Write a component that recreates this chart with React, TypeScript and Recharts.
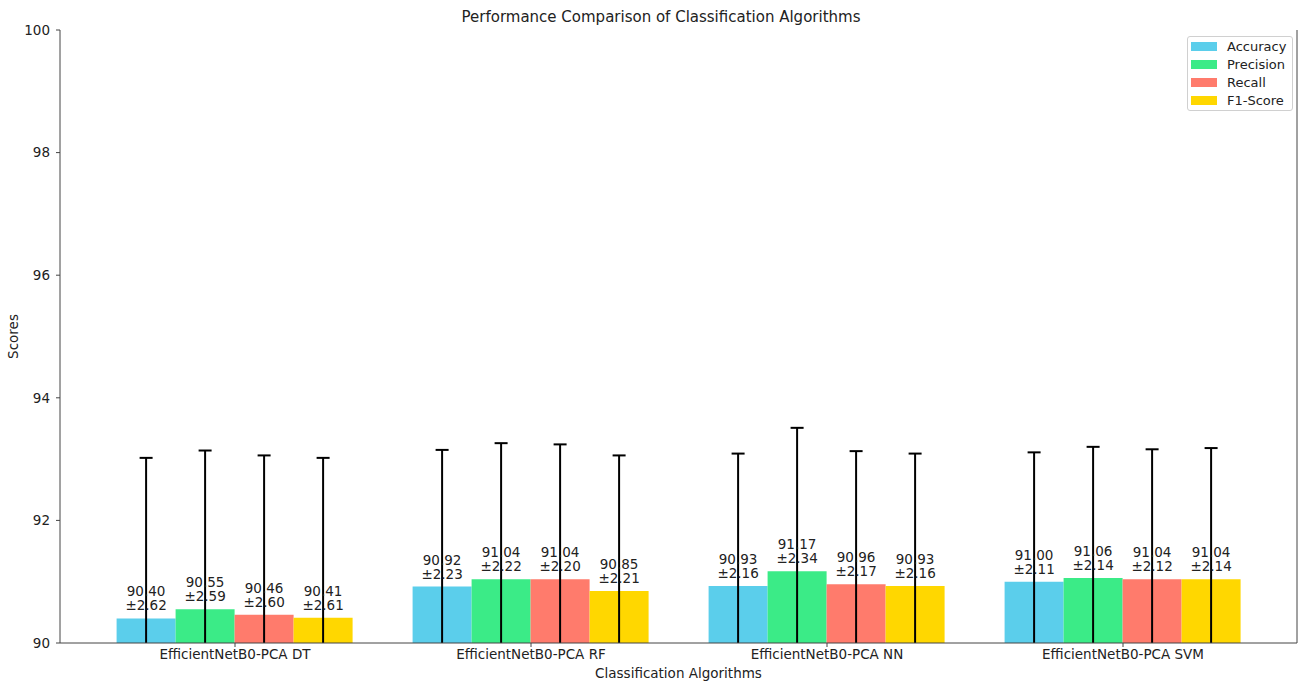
import React from 'react';
import { BarChart, Bar, XAxis, YAxis, ErrorBar, Legend, Label } from 'recharts';

const categories = ['EfficientNetB0-PCA DT', 'EfficientNetB0-PCA RF', 'EfficientNetB0-PCA NN', 'EfficientNetB0-PCA SVM'];
const accuracy = [90.40, 90.92, 90.93, 91.00];
const accuracyErr = [2.62, 2.23, 2.16, 2.11];
const precision = [90.55, 91.04, 91.17, 91.06];
const precisionErr = [2.59, 2.22, 2.34, 2.14];
const recall = [90.46, 91.04, 90.96, 91.04];
const recallErr = [2.60, 2.20, 2.17, 2.12];
const f1 = [90.41, 90.85, 90.93, 91.04];
const f1Err = [2.61, 2.21, 2.16, 2.14];
const yTicks = [90, 92, 94, 96, 98, 100];
const Y_MIN = 90;
const Y_MAX = 100;

const FONT = 'DejaVu Sans, sans-serif';

const series = [
  { key: 'Accuracy', err: 'AccuracyErr', vals: accuracy, errs: accuracyErr, color: '#5BCEEB' },
  { key: 'Precision', err: 'PrecisionErr', vals: precision, errs: precisionErr, color: '#3BEB87' },
  { key: 'Recall', err: 'RecallErr', vals: recall, errs: recallErr, color: '#FF7B6C' },
  { key: 'F1-Score', err: 'F1Err', vals: f1, errs: f1Err, color: '#FFD700' },
];

// error bars are clipped at the bottom of the axis (as matplotlib does)
const data = categories.map((c, i) => {
  const row: any = { name: c };
  series.forEach((s) => {
    row[s.key] = s.vals[i];
    row[s.err] = [Math.min(s.errs[i], s.vals[i] - Y_MIN), s.errs[i]];
  });
  return row;
});

const makeLabel = (errs: number[]) => (props: any) => {
  const { x, y, width, index, value } = props;
  const cx = Number(x) + Number(width) / 2;
  const v = Array.isArray(value) ? value[1] : value;
  return (
    <text x={cx} y={Number(y) - 8} textAnchor="middle" fontSize={13.5} fill="#222" fontFamily={FONT}>
      <tspan x={cx} dy={-14}>{Number(v).toFixed(2)}</tspan>
      <tspan x={cx} dy={14}>±{errs[index].toFixed(2)}</tspan>
    </text>
  );
};

const LegendBox = () => (
  <div
    style={{
      boxSizing: 'border-box',
      width: 106,
      height: 75,
      border: '1px solid #d0d0d0',
      borderRadius: 3,
      background: '#fff',
      padding: '0 3px',
      fontFamily: FONT,
      fontSize: 13,
      color: '#222',
    }}
  >
    {series.map((s) => (
      <div key={s.key} style={{ height: 18, display: 'flex', alignItems: 'center' }}>
        <span style={{ display: 'inline-block', width: 26, height: 9, background: s.color, marginRight: 10 }} />
        <span>{s.key}</span>
      </div>
    ))}
  </div>
);

export default function App() {
  return (
    <div style={{ position: 'absolute', left: 0, top: 0, width: 1301, height: 682, background: '#fff' }}>
      <style>{`.recharts-errorBar line:last-child { display: none; }`}</style>
      <div
        style={{
          position: 'absolute',
          left: 0,
          width: 1322,
          top: 7,
          textAlign: 'center',
          fontFamily: FONT,
          fontSize: 15,
          color: '#222',
          lineHeight: '20px',
        }}
      >
        Performance Comparison of Classification Algorithms
      </div>
      <BarChart
        width={1301}
        height={682}
        data={data}
        margin={{ top: 30, right: 3, left: 0, bottom: 0 }}
        barCategoryGap="10%"
        barGap={0}
      >
        <XAxis
          dataKey="name"
          xAxisId={0}
          height={39}
          padding={{ left: 27, right: 26 }}
          tickSize={4}
          tickMargin={2}
          stroke="#444"
          tick={{ fill: '#222', fontSize: 13.5, fontFamily: FONT }}
          axisLine={{ stroke: '#444' }}
        >
          <Label
            content={(p: any) => {
              const vb = p.viewBox;
              return (
                <text
                  x={vb.x + vb.width / 2}
                  y={678}
                  textAnchor="middle"
                  fontSize={13.5}
                  fill="#222"
                  fontFamily={FONT}
                >
                  Classification Algorithms
                </text>
              );
            }}
          />
        </XAxis>
        <XAxis
          dataKey="name"
          xAxisId="top"
          orientation="top"
          height={0}
          tick={false}
          tickLine={false}
          axisLine={{ stroke: '#444' }}
        />
        <YAxis
          yAxisId={0}
          width={60}
          domain={[Y_MIN, Y_MAX]}
          ticks={yTicks}
          allowDataOverflow
          tickSize={4}
          tickMargin={6}
          stroke="#444"
          tick={{ fill: '#222', fontSize: 13.5, fontFamily: FONT }}
          axisLine={{ stroke: '#444' }}
        >
          <Label
            content={(p: any) => {
              const vb = p.viewBox;
              const cy = vb.y + vb.height / 2;
              return (
                <text
                  x={18}
                  y={cy}
                  transform={`rotate(-90 18 ${cy})`}
                  textAnchor="middle"
                  fontSize={13.5}
                  fill="#222"
                  fontFamily={FONT}
                >
                  Scores
                </text>
              );
            }}
          />
        </YAxis>
        <YAxis
          yAxisId="right"
          orientation="right"
          width={1}
          domain={[Y_MIN, Y_MAX]}
          tick={false}
          tickLine={false}
          axisLine={{ stroke: '#444' }}
        />
        <Legend
          layout="vertical"
          align="center"
          verticalAlign="middle"
          content={() => <LegendBox />}
          wrapperStyle={{ top: 36, left: 1187, width: 106, height: 75 }}
        />
        {series.map((s) => (
          <Bar
            key={s.key}
            dataKey={s.key}
            fill={s.color}
            isAnimationActive={false}
            label={makeLabel(s.errs)}
          >
            <ErrorBar dataKey={s.err} width={6.5} stroke="#000" strokeWidth={2} direction="y" />
          </Bar>
        ))}
      </BarChart>
    </div>
  );
}
